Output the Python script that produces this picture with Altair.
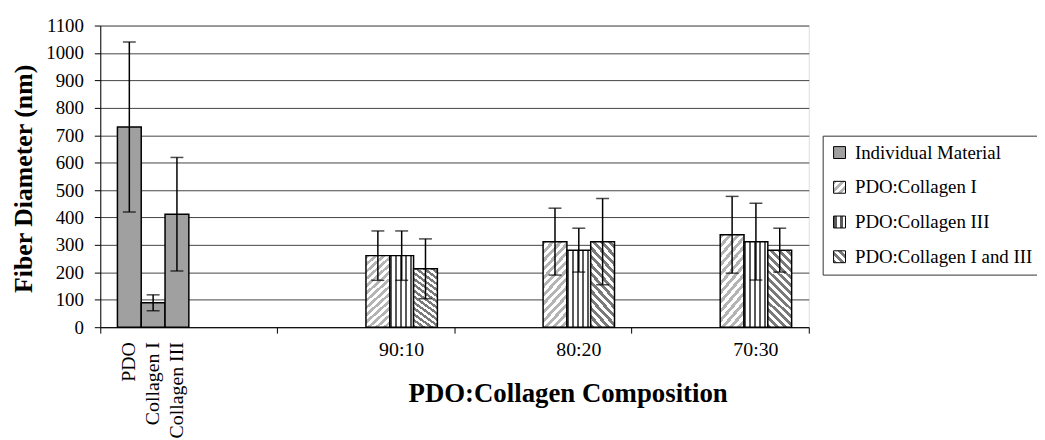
import math
import altair as alt
import pandas as pd

# ---------------- data ----------------
groups = ["Individual", "90:10", "80:20", "70:30"]
slots = ["s0", "s1", "s2", "s3", "s4", "s5"]
series = ["Individual Material", "PDO:Collagen I", "PDO:Collagen III", "PDO:Collagen I and III"]

individual_labels = ["PDO", "Collagen I", "Collagen III"]
individual_mean = [730, 89, 412]
individual_err = [310, 29, 207]

blend_groups = ["90:10", "80:20", "70:30"]
col1_mean = [261, 312, 337]
col1_err = [90, 122, 140]
col3_mean = [261, 281, 312]
col3_err = [90, 80, 140]
col13_mean = [213, 312, 281]
col13_err = [109, 157, 80]

rows = []
for i, lab in enumerate(individual_labels):
    rows.append(dict(group=groups[0], slot=slots[i], series=series[0], label=lab,
                     mean=individual_mean[i], err=individual_err[i]))
for si, (means, errs) in enumerate([(col1_mean, col1_err), (col3_mean, col3_err), (col13_mean, col13_err)]):
    for gi, g in enumerate(blend_groups):
        rows.append(dict(group=g, slot=slots[3 + si], series=series[1 + si], label=g,
                         mean=means[gi], err=errs[gi]))
df = pd.DataFrame(rows)
df["lo"] = df["mean"] - df["err"]
df["hi"] = df["mean"] + df["err"]

group_text = pd.DataFrame({"group": blend_groups, "slot": ["s4"] * len(blend_groups)})
indiv_text = pd.DataFrame({"group": [groups[0]] * 3, "slot": slots[:3], "label": individual_labels})

# ---------------- style ----------------
FONT = "Liberation Serif"
W, H = 714, 304
GREY = "#a0a0a0"


def stripe_stops(fg, bg, periods, frac):
    out = []
    i = 0
    while i / periods < 1:
        a = i / periods
        b = min((i + frac) / periods, 1)
        c = min((i + 1) / periods, 1)
        out += [(fg, a), (fg, b), (bg, b), (bg, c)]
        i += 1
    return [{"color": col, "offset": round(o, 4)} for col, o in out]


# typical bar size in pixels for the diagonal hatch geometry
bw, bh = 24.0, 80.0
ax, ay = bw / bh, 1.0
k = (ax + ay) / (ax * ax + ay * ay)
diag_periods = (bw + bh) / math.sqrt(2) / 5.7


def grad(x1, y1, x2, y2, stops):
    return {"gradient": "linear", "x1": x1, "y1": y1, "x2": x2, "y2": y2, "stops": stops}


fill_c1 = grad(0, 0, round(ax * k, 4), round(ay * k, 4), stripe_stops("#b4b4b4", "#ffffff", diag_periods, 0.5))
fill_c3 = grad(0, 0, 1, 0, stripe_stops("#5a5a5a", "#ffffff", bw / 5.0, 0.4))
fill_c13 = grad(0, 1, round(ax * k, 4), round(1 - ay * k, 4), stripe_stops("#7a7a7a", "#ffffff", diag_periods, 0.5))
bar_fills = [GREY, fill_c1, fill_c3, fill_c13]


def grad_expr(g):
    st = ",".join("{offset:%s,color:'%s'}" % (s["offset"], s["color"]) for s in g["stops"])
    return {"expr": "{gradient:'linear',x1:%s,y1:%s,x2:%s,y2:%s,stops:[%s]}" % (
        g["x1"], g["y1"], g["x2"], g["y2"], st)}


leg_c1 = grad(0, 0, 1, 1, stripe_stops("#b4b4b4", "#ffffff", 3, 0.5))
leg_c3 = grad(0, 0, 1, 0, stripe_stops("#5a5a5a", "#ffffff", 2, 0.5))
leg_c13 = grad(0, 1, 1, 0, stripe_stops("#7a7a7a", "#ffffff", 3, 0.5))
legend_range = [GREY, grad_expr(leg_c1), grad_expr(leg_c3), grad_expr(leg_c13)]

x_axis = alt.Axis(labels=False, ticks=True, tickSize=6, tickColor="black", domainColor="black",
                  bandPosition=1, tickExtra=True, grid=False,
                  title="PDO:Collagen Composition", titleFont=FONT, titleFontSize=27,
                  titleFontWeight="bold", titleColor="black", titleX=471, titleY=75,
                  titleBaseline="alphabetic", titleAlign="center")
y_axis = alt.Axis(values=list(range(0, 1101, 100)), format="d", grid=True, gridColor="#444",
                  gridWidth=1, domainColor="black", tickColor="black", tickSize=6, labelFont=FONT,
                  labelFontSize=19, labelColor="black", labelPadding=11, labelFlush=False,
                  labelOverlap=False, title="Fiber Diameter (nm)", titleFont=FONT,
                  titleFontSize=26, titleFontWeight="bold", titleColor="black",
                  titleX=-69, titleY=154, titleAngle=270, titleBaseline="alphabetic",
                  titleAlign="center")

x_enc = alt.X("group:N", scale=alt.Scale(domain=groups, paddingInner=0, paddingOuter=0), axis=x_axis)
xo_enc = alt.XOffset("slot:N", scale=alt.Scale(domain=slots, paddingInner=0, paddingOuter=0.72))
y_scale = alt.Scale(domain=[0, 1100], nice=False)

base = alt.Chart(df)

bar_layers = []
for s, f in zip(series, bar_fills):
    bar_layers.append(
        base.transform_filter(alt.datum.series == s)
        .mark_bar(fill=f, stroke="black", strokeWidth=1.5)
        .encode(x=x_enc, xOffset=xo_enc, y=alt.Y("mean:Q", scale=y_scale, axis=y_axis))
    )

legend_layer = base.mark_bar(opacity=0).encode(
    x=x_enc, xOffset=xo_enc, y=alt.Y("mean:Q", scale=y_scale, axis=y_axis),
    color=alt.Color("series:N", scale=alt.Scale(domain=series, range=legend_range),
                    legend=alt.Legend(title=None, orient="none", legendX=728, legendY=111,
                                      direction="vertical", symbolType="square", symbolSize=144,
                                      symbolStrokeColor="black", symbolStrokeWidth=1,
                                      symbolOpacity=1, labelFont=FONT, labelFontSize=19,
                                      labelColor="black", labelOffset=6, rowPadding=15,
                                      padding=7.5, strokeColor="#333", fillColor="white",
                                      labelLimit=400)),
)

rules = base.mark_rule(color="black", strokeWidth=1.5).encode(
    x=x_enc, xOffset=xo_enc, y=alt.Y("lo:Q", scale=y_scale, axis=y_axis), y2="hi:Q")
caps_lo = base.mark_tick(color="black", size=13, thickness=1.5).encode(
    x=x_enc, xOffset=xo_enc, y=alt.Y("lo:Q", scale=y_scale, axis=y_axis))
caps_hi = base.mark_tick(color="black", size=13, thickness=1.5).encode(
    x=x_enc, xOffset=xo_enc, y=alt.Y("hi:Q", scale=y_scale, axis=y_axis))

group_labels = alt.Chart(group_text).mark_text(
    font=FONT, fontSize=20, baseline="alphabetic", align="center", color="black"
).encode(x=x_enc, xOffset=xo_enc, y=alt.value(H + 29), text="group:N")

indiv_labels = alt.Chart(indiv_text).mark_text(
    font=FONT, fontSize=20, baseline="middle", align="right", angle=270, color="black"
).encode(x=x_enc, xOffset=xo_enc, y=alt.value(H + 15), text="label:N")

chart = alt.layer(
    *bar_layers, legend_layer, rules, caps_lo, caps_hi, group_labels, indiv_labels
).properties(
    width=W, height=H,
    padding={"left": 93, "top": 16, "right": 230, "bottom": 112},
    autosize=alt.AutoSizeParams(type="none"),
).configure_view(stroke="black", strokeWidth=1).configure(font=FONT, background="white")

chart.save("out.html", embed_options={"renderer": "svg", "actions": False})
